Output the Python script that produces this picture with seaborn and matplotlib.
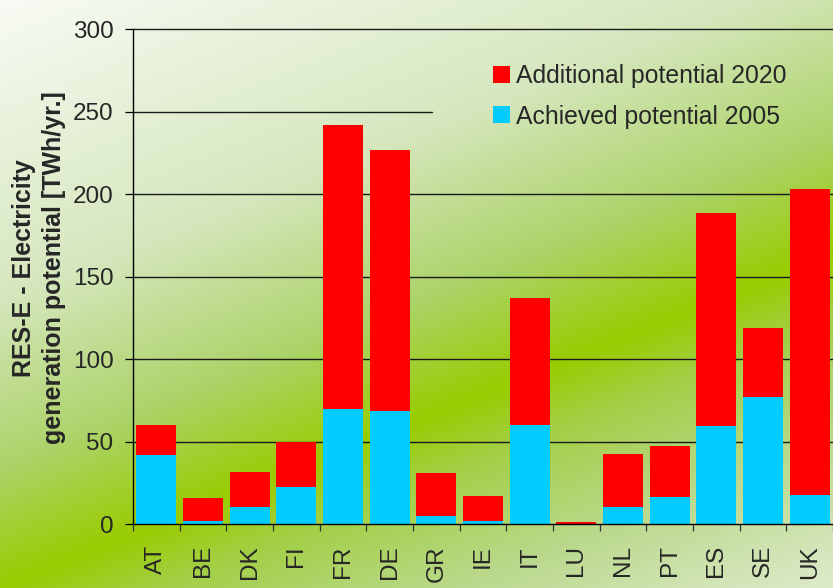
import numpy as np
import pandas as pd
import matplotlib
matplotlib.use("Agg")
import matplotlib.pyplot as plt
import seaborn as sns

# RES-E electricity generation potential per country [TWh/yr.]
countries = ["AT", "BE", "DK", "FI", "FR", "DE", "GR", "IE", "IT", "LU",
             "NL", "PT", "ES", "SE", "UK"]
achieved_2005 = [42, 2, 10.5, 22.5, 70, 68.7, 5, 2, 60, 0.1,
                 10.5, 16.5, 59.5, 77, 17.8]
additional_2020 = [18, 14, 21.5, 27.5, 172, 158.3, 26, 15, 77, 1.4,
                   32, 31, 129.5, 42, 185.2]
y_ticks = [0, 50, 100, 150, 200, 250, 300]

df = pd.DataFrame({
    "country": countries,
    "achieved": achieved_2005,
    "additional": additional_2020,
})
df["total"] = df["achieved"] + df["additional"]

sns.set_theme(style="white")
plt.rcParams["font.family"] = ["Liberation Sans", "DejaVu Sans"]

W, H, DPI = 833, 588, 100
fig = plt.figure(figsize=(W / DPI, H / DPI), dpi=DPI)

# Diagonal green backdrop: pale at top-left, vivid green band, lighter again at bottom-right
yy, xx = np.mgrid[0:H, 0:W].astype(float)
d = (0.4 * xx + yy - 587) / np.hypot(0.4, 1.0)
stops_d = [-560, -270, -110, 0, 60, 170, 320]
stops_c = np.array([
    [250, 252, 247],
    [214, 231, 190],
    [172, 211, 104],
    [153, 204, 0],
    [163, 207, 70],
    [186, 217, 140],
    [224, 236, 208],
]) / 255.0
img = np.stack([np.interp(d, stops_d, stops_c[:, k]) for k in range(3)], axis=-1)
bg = fig.add_axes([0, 0, 1, 1], zorder=-10)
bg.imshow(img, aspect="auto", interpolation="bilinear")
bg.axis("off")

ax = fig.add_axes([133 / W, 1 - 524.3 / H, 700 / W, (524.3 - 29.5) / H])
ax.set_facecolor("none")

bar_style = dict(width=0.86, saturation=1, linewidth=0, edgecolor="none", zorder=3)
sns.barplot(data=df, x="country", y="total", color="#FF0000",
            label="Additional potential 2020", ax=ax, **bar_style)
sns.barplot(data=df, x="country", y="achieved", color="#00CCFF",
            label="Achieved potential 2005", ax=ax, **bar_style)

ax.set_xlim(-0.5, len(countries) - 0.5)
ax.set_ylim(0, 300)

# Horizontal gridlines (the 250 line stops short where the legend sits)
for v in y_ticks[1:]:
    xmax = (432 - 133) / 700 if v == 250 else 1.0
    ax.axhline(v, xmin=0, xmax=xmax, color="#1a1a1a", lw=1.0, zorder=1,
               clip_on=False)

ax.set_yticks(y_ticks)
ax.tick_params(axis="y", which="major", direction="out", length=6, width=0.9,
               color="black", pad=8, labelsize=17.5, left=True)

# Category boundaries carry the tick marks, centers carry the labels
ax.set_xticks(np.arange(-0.5, len(countries), 1.0))
ax.set_xticklabels([])
ax.set_xticks(np.arange(len(countries)), minor=True)
ax.set_xticklabels(countries, minor=True, rotation=90, fontsize=17.5)
ax.tick_params(axis="x", which="major", direction="out", length=5, width=0.9,
               color="#333333", bottom=True)
ax.tick_params(axis="x", which="minor", length=0, pad=15)

for side in ["top", "right"]:
    ax.spines[side].set_visible(False)
for side in ["left", "bottom"]:
    ax.spines[side].set_color("black")
    ax.spines[side].set_linewidth(1.0)
    ax.spines[side].set_zorder(4)

ax.set_xlabel("")
ax.set_ylabel("")
fig.text(39 / W, 1 - 268 / H,
         "RES-E - Electricity\ngeneration potential [TWh/yr.]",
         rotation=90, ha="center", va="center", multialignment="center",
         fontsize=18, fontweight="bold", linespacing=1.35)

leg = ax.legend(loc="upper left", bbox_to_anchor=(493 / W, 1 - 64.5 / H),
                bbox_transform=fig.transFigure, frameon=False, fontsize=17.8,
                handlelength=0.68, handleheight=0.68, handletextpad=0.25,
                labelspacing=0.65, borderpad=0, borderaxespad=0)

fig.savefig("out.png", dpi=DPI)
